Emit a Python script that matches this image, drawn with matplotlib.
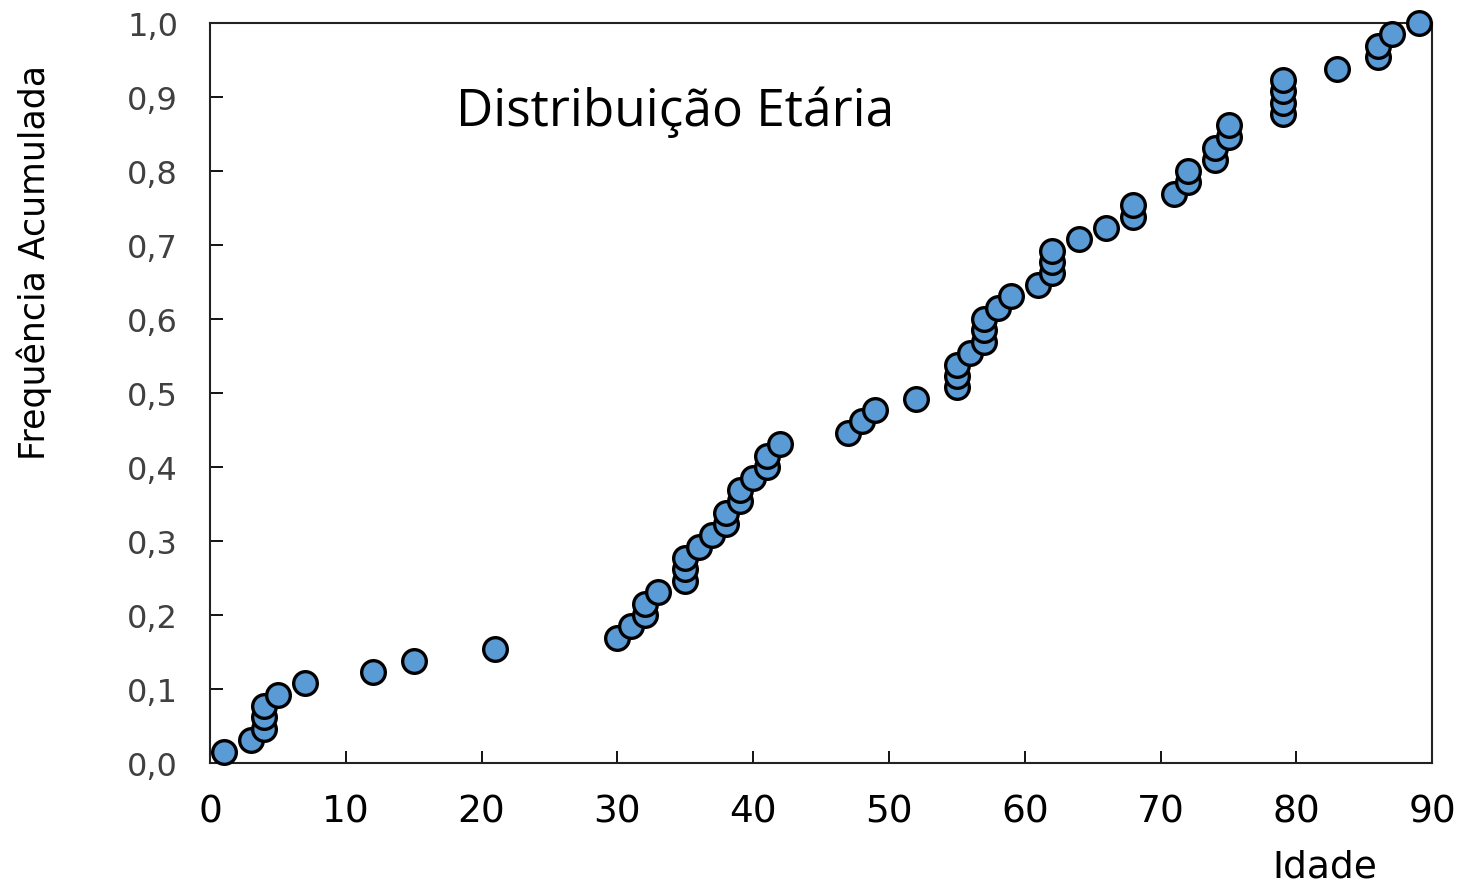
import numpy as np
import matplotlib.pyplot as plt

# Idade (x) e frequência acumulada (y)
idade = [1, 3, 4, 4, 4, 5, 7, 12, 15, 21,
         30, 31, 32, 32, 33, 35, 35, 35, 36, 37,
         38, 38, 39, 39, 40, 41, 41, 42, 47, 48,
         49, 52, 55, 55, 55, 56, 57, 57, 57, 58,
         59, 61, 62, 62, 62, 64, 66, 68, 68, 71,
         72, 72, 74, 74, 75, 75, 79, 79, 79, 79,
         83, 86, 86, 87, 89]
freq_acum = [0.015, 0.031, 0.046, 0.062, 0.077, 0.092, 0.108, 0.123, 0.138, 0.154,
             0.169, 0.185, 0.200, 0.215, 0.231, 0.246, 0.262, 0.277, 0.292, 0.308,
             0.323, 0.338, 0.354, 0.369, 0.385, 0.400, 0.415, 0.431, 0.446, 0.462,
             0.477, 0.492, 0.508, 0.523, 0.538, 0.554, 0.569, 0.585, 0.600, 0.615,
             0.631, 0.646, 0.662, 0.677, 0.692, 0.708, 0.723, 0.738, 0.754, 0.769,
             0.785, 0.800, 0.815, 0.831, 0.846, 0.862, 0.877, 0.892, 0.908, 0.923,
             0.938, 0.954, 0.969, 0.985, 1.000]

x_ticks = list(range(0, 91, 10))
y_ticks = [i / 10 for i in range(11)]

fig = plt.figure(figsize=(14.6, 8.87), dpi=100)
ax = fig.add_axes([0.1438, 0.1387, 0.981 - 0.1438, 0.973 - 0.1387])

ax.scatter(idade, freq_acum, s=290, c='#5B9BD5', edgecolors='black',
           linewidths=2.4, zorder=3, clip_on=False)

ax.set_xlim(0, 90)
ax.set_ylim(0, 1.0)
ax.set_xticks(x_ticks)
ax.set_yticks(y_ticks)
ax.set_xticklabels([str(v) for v in x_ticks], family='DejaVu Sans', fontsize=27)
ax.set_yticklabels([f'{v:.1f}'.replace('.', ',') for v in y_ticks],
                   family='DejaVu Sans', fontsize=23, color='#404040')
ax.tick_params(axis='x', direction='in', length=9, width=1.3, pad=22)
ax.tick_params(axis='y', direction='in', length=9, width=1.3, pad=23)
for sp in ax.spines.values():
    sp.set_linewidth(1.5)
    sp.set_color('#222222')

fig.text(675 / 1460, 1 - 112 / 887, 'Distribuição Etária', family='Open Sans',
         fontsize=37, ha='center', va='center')
fig.text(34 / 1460, 1 - 262 / 887, 'Frequência Acumulada', family='DejaVu Sans',
         fontsize=25, rotation=90, ha='center', va='center')
fig.text(1325 / 1460, 1 - 868 / 887, 'Idade', family='DejaVu Sans',
         fontsize=27, ha='center', va='center')

fig.savefig('out.png', dpi=100)
